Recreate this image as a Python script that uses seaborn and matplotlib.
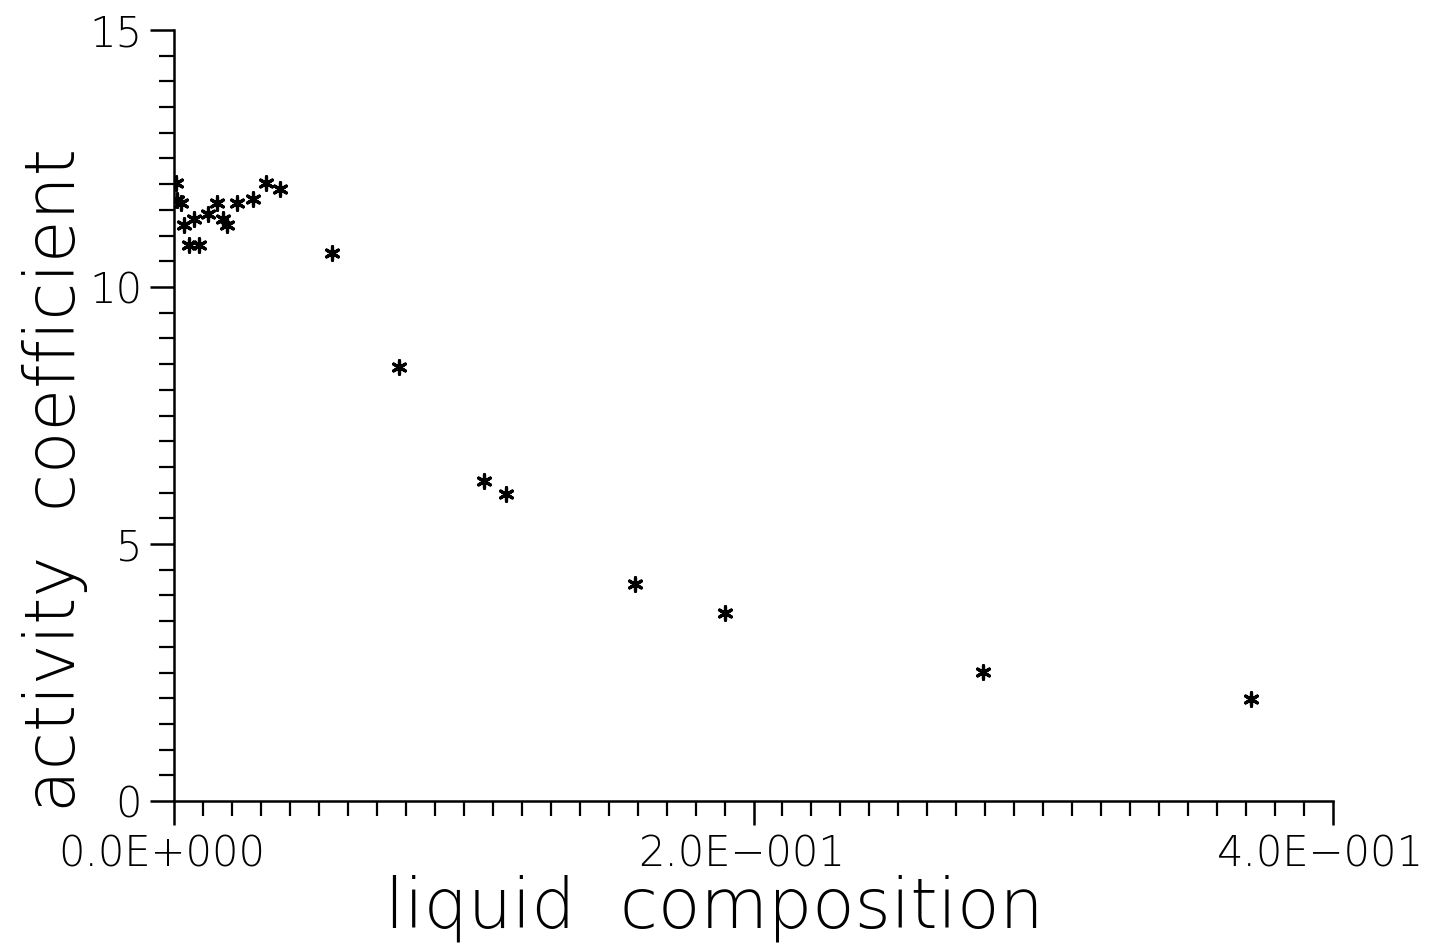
import matplotlib
matplotlib.use("Agg")
import matplotlib.pyplot as plt
import pandas as pd
import seaborn as sns
from matplotlib import transforms
from matplotlib.ticker import FixedLocator, FixedFormatter, MultipleLocator

# Measured activity coefficients versus liquid mole fraction
liquid_composition = [
    0.0007, 0.0010, 0.0024, 0.0035, 0.0069, 0.0052, 0.0086, 0.0117,
    0.0148, 0.0169, 0.0183, 0.0217, 0.0273, 0.0318, 0.0366, 0.0545,
    0.0777, 0.1070, 0.1146, 0.1591, 0.1902, 0.2792, 0.3717,
]
activity_coefficient = [
    12.02, 11.69, 11.63, 11.21, 11.32, 10.82, 10.82, 11.42,
    11.63, 11.32, 11.21, 11.63, 11.71, 12.02, 11.91, 10.66,
    8.44, 6.23, 5.97, 4.22, 3.66, 2.51, 1.98,
]

x_major_ticks = [0.0, 0.2, 0.4]
x_tick_labels = ["0.0E+000", "2.0E\u2212001", "4.0E\u2212001"]
y_major_ticks = [0, 5, 10, 15]
y_tick_labels = ["0", "5", "10", "15"]

df = pd.DataFrame({"x": liquid_composition, "gamma": activity_coefficient})

sns.set_theme(style="ticks")
plt.rcParams["font.family"] = ["DejaVu Sans"]

fig = plt.figure(figsize=(14.29, 9.48), dpi=100)
ax = fig.add_axes([0.1218, 0.155, 0.811, 0.8134])

asterisk = (6, 2, 0)
sns.scatterplot(data=df, x="x", y="gamma", ax=ax, marker=asterisk, s=95,
                color="black", edgecolor="black", linewidth=2.3, legend=False)

ax.set_xlim(0, 0.4)
ax.set_ylim(0, 15)

ax.xaxis.set_major_locator(FixedLocator(x_major_ticks))
ax.xaxis.set_major_formatter(FixedFormatter(x_tick_labels))
ax.xaxis.set_minor_locator(MultipleLocator(0.01))
ax.yaxis.set_major_locator(FixedLocator(y_major_ticks))
ax.yaxis.set_major_formatter(FixedFormatter(y_tick_labels))
ax.yaxis.set_minor_locator(MultipleLocator(0.5))

for side in ("top", "right"):
    ax.spines[side].set_visible(False)
for side in ("left", "bottom"):
    ax.spines[side].set_linewidth(1.8)
    ax.spines[side].set_color("black")

ax.tick_params(axis="both", which="major", direction="out", length=17,
               width=1.8, color="black", labelsize=30, pad=6,
               labelcolor="black")
ax.tick_params(axis="both", which="minor", direction="out", length=11,
               width=1.6, color="black")
ax.tick_params(axis="y", which="major", pad=6)

shift = transforms.ScaledTranslation(-0.12, 0, fig.dpi_scale_trans)
for lab in ax.get_xticklabels():
    lab.set_transform(lab.get_transform() + shift)
    lab.set_fontweight("light")
for lab in ax.get_yticklabels():
    lab.set_fontweight("light")

ax.set_xlabel("liquid  composition", fontsize=50, fontweight="light",
              color="black")
ax.set_ylabel("activity  coefficient", fontsize=50, fontweight="light",
              color="black")
ax.xaxis.set_label_coords(0.466, -0.095)
ax.yaxis.set_label_coords(-0.073, 0.416)

ax.set_facecolor("white")
fig.patch.set_facecolor("white")
ax.grid(False)

fig.savefig("out.png", dpi=100, facecolor="white")
